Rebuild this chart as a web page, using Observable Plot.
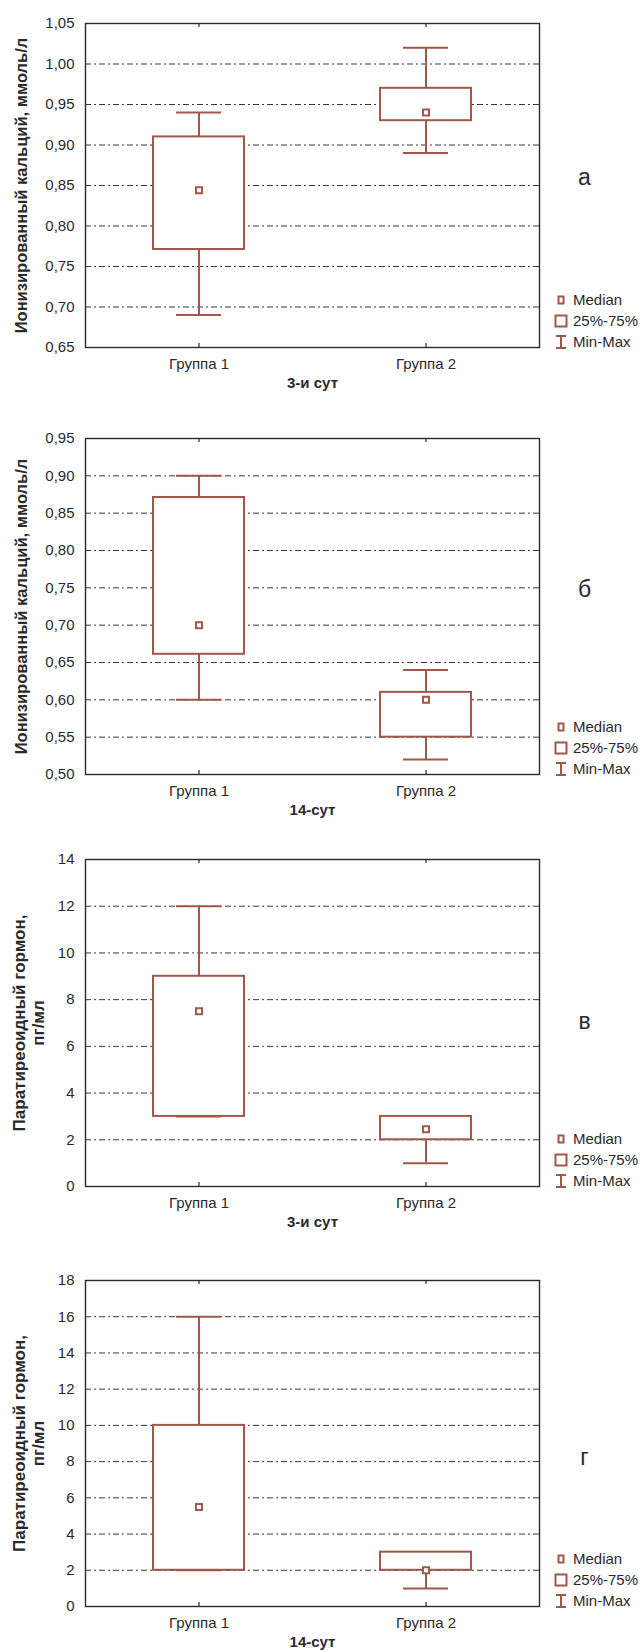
<!DOCTYPE html>
<html><head><meta charset="utf-8">
<script src="https://cdn.jsdelivr.net/npm/d3@7"></script>
<script src="https://cdn.jsdelivr.net/npm/@observablehq/plot@0.6"></script>
<style>
body{margin:0;background:#fff;font-family:"Liberation Sans",Arial,Helvetica,sans-serif;}
#root{position:relative;width:640px;height:1651px;overflow:hidden;}
.panel{position:absolute;left:0;width:640px;}
</style></head><body><div id="root"></div>
<script>
const groups = ["Группа 1", "Группа 2"];

// а) Ionized calcium, day 3
const caDay3Min = [0.69, 0.89];
const caDay3Q1 = [0.771, 0.93];
const caDay3Median = [0.844, 0.94];
const caDay3Q3 = [0.91, 0.97];
const caDay3Max = [0.94, 1.02];
const caDay3Ticks = [0.65, 0.70, 0.75, 0.80, 0.85, 0.90, 0.95, 1.00, 1.05];

// б) Ionized calcium, day 14
const caDay14Min = [0.60, 0.52];
const caDay14Q1 = [0.661, 0.55];
const caDay14Median = [0.70, 0.60];
const caDay14Q3 = [0.871, 0.61];
const caDay14Max = [0.90, 0.64];
const caDay14Ticks = [0.50, 0.55, 0.60, 0.65, 0.70, 0.75, 0.80, 0.85, 0.90, 0.95];

// в) Parathyroid hormone, day 3
const pthDay3Min = [3, 1];
const pthDay3Q1 = [3, 2];
const pthDay3Median = [7.5, 2.45];
const pthDay3Q3 = [9, 3];
const pthDay3Max = [12, 3];
const pthDay3Ticks = [0, 2, 4, 6, 8, 10, 12, 14];

// г) Parathyroid hormone, day 14
const pthDay14Min = [2, 1];
const pthDay14Q1 = [2, 2];
const pthDay14Median = [5.5, 2];
const pthDay14Q3 = [10, 3];
const pthDay14Max = [16, 3];
const pthDay14Ticks = [0, 2, 4, 6, 8, 10, 12, 14, 16, 18];

const caTitle = "Ионизированный кальций, ммоль/л";
const pthTitle = "Паратиреоидный гормон,\nпг/мл";
const legendLabels = ["Median", "25%-75%", "Min-Max"];

const BROWN = "#a0584a";
const INK = "#2a2a2a";
const FONT = "'Liberation Sans', Arial, Helvetica, sans-serif";

function rowsOf(mins, q1s, meds, q3s, maxs) {
  return groups.map((g, i) => ({group: g, min: mins[i], q1: q1s[i], median: meds[i], q3: q3s[i], max: maxs[i]}));
}

const panels = [
  {top: 0, mt: 23, ph: 324, mb: 60, rows: rowsOf(caDay3Min, caDay3Q1, caDay3Median, caDay3Q3, caDay3Max),
   ticks: caDay3Ticks, dec: true, title: caTitle, titleSize: 16.5, titleDx: -64, letter: "а", letterDy: 145, xlab: "3-и сут"},
  {top: 415, mt: 23, ph: 336, mb: 60, rows: rowsOf(caDay14Min, caDay14Q1, caDay14Median, caDay14Q3, caDay14Max),
   ticks: caDay14Ticks, dec: true, title: caTitle, titleSize: 16.5, titleDx: -64, letter: "б", letterDy: 142, xlab: "14-сут"},
  {top: 837, mt: 22, ph: 327, mb: 60, rows: rowsOf(pthDay3Min, pthDay3Q1, pthDay3Median, pthDay3Q3, pthDay3Max),
   ticks: pthDay3Ticks, dec: false, title: pthTitle, titleSize: 17, titleDx: -57, letter: "в", letterDy: 153, xlab: "3-и сут"},
  {top: 1257, mt: 23, ph: 326, mb: 45, rows: rowsOf(pthDay14Min, pthDay14Q1, pthDay14Median, pthDay14Q3, pthDay14Max),
   ticks: pthDay14Ticks, dec: false, title: pthTitle, titleSize: 17, titleDx: -57, letter: "г", letterDy: 168, xlab: "14-сут"}
];

const root = document.getElementById("root");
const W = 640, ML = 85, MR = 101;

panels.forEach(p => {
  const lo = p.ticks[0], hi = p.ticks[p.ticks.length - 1];
  const H = p.mt + p.ph + p.mb;
  const fmt = p.dec ? (d => d3.format(".2f")(d).replace(".", ",")) : (d => d3.format("d")(d));
  const tickLen = (hi - lo) * 4 / p.ph;
  const inner = p.ticks.slice(1, -1);

  const chart = Plot.plot({
    width: W, height: H,
    marginLeft: ML, marginRight: MR, marginTop: p.mt, marginBottom: p.mb,
    style: {fontFamily: FONT, fontSize: "15px", color: INK, background: "transparent", overflow: "visible"},
    x: {type: "band", domain: groups, padding: 0, label: null},
    y: {domain: [lo, hi], label: null},
    marks: [
      Plot.gridY(inner, {stroke: "#3a3a3a", strokeOpacity: 1, strokeWidth: 1, strokeDasharray: "6,3,2,3"}),
      Plot.ruleX(p.rows, {x: "group", y1: "q3", y2: "max", stroke: BROWN, strokeWidth: 2}),
      Plot.ruleX(p.rows, {x: "group", y1: "q1", y2: "min", stroke: BROWN, strokeWidth: 2}),
      Plot.tickY(p.rows, {x: "group", y: "max", stroke: BROWN, strokeWidth: 2, insetLeft: 91, insetRight: 91}),
      Plot.tickY(p.rows, {x: "group", y: "min", stroke: BROWN, strokeWidth: 2, insetLeft: 91, insetRight: 91}),
      Plot.barY(p.rows, {x: "group", y1: "q1", y2: "q3", fill: "white", stroke: BROWN, strokeWidth: 2, insetLeft: 68, insetRight: 68}),
      Plot.dot(p.rows, {x: "group", y: "median", symbol: "square", r: 3.4, fill: "white", stroke: BROWN, strokeWidth: 2}),
      Plot.ruleX(groups, {x: d => d, y1: lo, y2: lo + tickLen, stroke: INK, strokeWidth: 1.2}),
      Plot.ruleX(groups, {x: d => d, y1: hi, y2: hi - tickLen, stroke: INK, strokeWidth: 1.2}),
      Plot.frame({stroke: INK, strokeWidth: 1.4}),
      Plot.axisY(p.ticks, {tickSize: 0, tickPadding: 11, tickFormat: fmt, fontSize: 15, label: null}),
      Plot.axisX({tickSize: 0, tickPadding: 11, fontSize: 15, label: null}),
      Plot.text([p.xlab], {text: d => d, frameAnchor: "bottom", dy: 40, fontWeight: "bold", fontSize: 15, fill: INK}),
      Plot.text([p.title], {text: d => d, frameAnchor: "left", textAnchor: "middle", rotate: -90, dx: p.titleDx, fontWeight: "bold", fontSize: p.titleSize, lineHeight: 1.1, fill: INK}),
      Plot.text([p.letter], {text: d => d, frameAnchor: "top-right", textAnchor: "middle", dx: 45, dy: p.letterDy, fontSize: 23, fill: INK})
    ]
  });

  // legend in the right margin, anchored to the plot's bottom
  const svg = d3.select(chart);
  const bottom = H - p.mb;
  const lx = W - MR + 22;
  const lg = svg.append("g").attr("font-family", FONT).attr("font-size", 15).attr("fill", INK).attr("text-anchor", "start");
  const rowsY = [bottom - 47, bottom - 26, bottom - 5];
  lg.append("rect").attr("x", lx - 2.5).attr("y", rowsY[0] - 3.5).attr("width", 5).attr("height", 7)
    .attr("fill", "white").attr("stroke", BROWN).attr("stroke-width", 2);
  lg.append("rect").attr("x", lx - 5.5).attr("y", rowsY[1] - 5.5).attr("width", 11).attr("height", 11)
    .attr("fill", "white").attr("stroke", BROWN).attr("stroke-width", 2);
  lg.append("path").attr("d", `M${lx - 5},${rowsY[2] - 6}h10M${lx},${rowsY[2] - 6}v12M${lx - 5},${rowsY[2] + 6}h10`)
    .attr("fill", "none").attr("stroke", BROWN).attr("stroke-width", 2);
  legendLabels.forEach((t, i) => {
    lg.append("text").attr("x", lx + 12).attr("y", rowsY[i]).attr("dy", "0.35em").attr("text-anchor", "start").text(t);
  });

  const div = document.createElement("div");
  div.className = "panel";
  div.style.top = p.top + "px";
  div.appendChild(chart);
  root.appendChild(div);
});
</script>
</body></html>
